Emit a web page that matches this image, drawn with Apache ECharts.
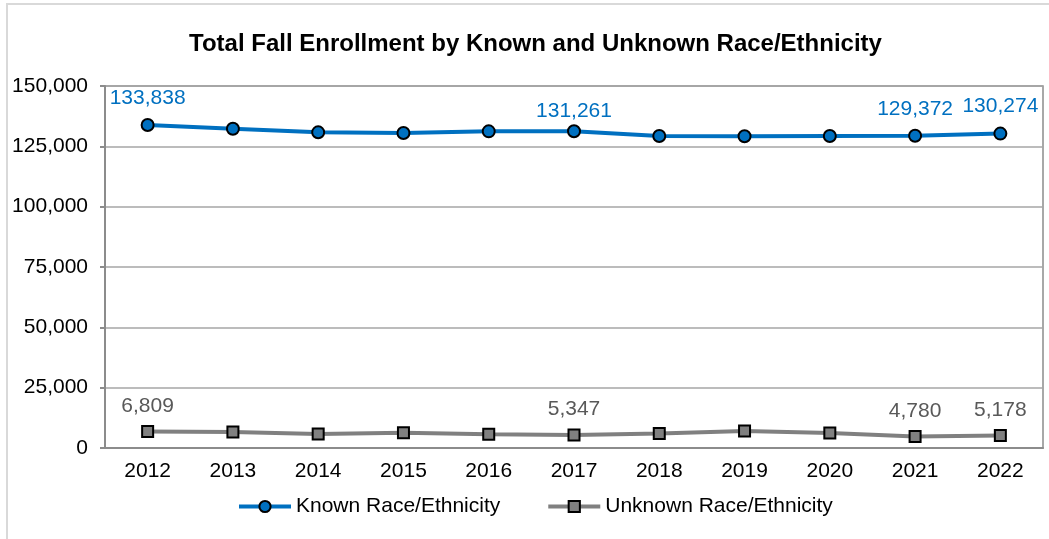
<!DOCTYPE html>
<html>
<head>
<meta charset="utf-8">
<script src="https://cdn.jsdelivr.net/npm/echarts@6/dist/echarts.min.js"></script>
<style>
html,body{margin:0;padding:0;background:#fff;}
#chart{width:1049px;height:539px;}
</style>
</head>
<body>
<div id="chart"></div>
<script>
const title = 'Total Fall Enrollment by Known and Unknown Race/Ethnicity';
const years = ['2012','2013','2014','2015','2016','2017','2018','2019','2020','2021','2022'];
const knownValues = [133838, 132300, 130800, 130500, 131200, 131261, 129300, 129200, 129300, 129372, 130274];
const unknownValues = [6809, 6650, 5800, 6350, 5650, 5347, 6050, 7050, 6200, 4780, 5178];
const knownLabelIdx = [0, 5, 9, 10];
const unknownLabelIdx = [0, 5, 9, 10];
const yTicks = [0, 25000, 50000, 75000, 100000, 125000, 150000];

const FONT = '"Liberation Sans", Arial, sans-serif';
const FS = 21;
const fmt = v => v.toLocaleString('en-US');

function buildData(values, idxs, color, offsets, defOff) {
  return values.map((v, i) => {
    const d = { value: v };
    if (idxs.includes(i)) {
      d.label = {
        show: true, position: 'top', color: color, fontSize: FS, fontFamily: FONT,
        distance: 0, offset: [0, offsets[i] !== undefined ? offsets[i] : defOff],
        formatter: p => fmt(p.value)
      };
    }
    return d;
  });
}

const chart = echarts.init(document.getElementById('chart'), null, { renderer: 'canvas' });
chart.setOption({
  backgroundColor: '#fff',
  animation: false,
  title: {
    text: title, left: 184, top: 27,
    textStyle: { fontFamily: FONT, fontSize: 24, fontWeight: 'bold', color: '#000' }
  },
  grid: { left: 105, right: 6, top: 86, bottom: 91, show: true, borderColor: '#8c8c8c', borderWidth: 1.5 },
  legend: {
    bottom: 17, left: 232, itemGap: 46, itemWidth: 52, itemHeight: 14,
    textStyle: { fontFamily: FONT, fontSize: FS, color: '#000' },
    lineStyle: { width: 4 },
    data: ['Known Race/Ethnicity', 'Unknown Race/Ethnicity']
  },
  xAxis: {
    type: 'category', data: years, boundaryGap: true,
    axisLine: { lineStyle: { color: '#8c8c8c', width: 2 } },
    axisTick: { show: false },
    axisLabel: { fontFamily: FONT, fontSize: FS, color: '#000', margin: 13 }
  },
  yAxis: {
    type: 'value', min: 0, max: 150000, interval: 25000,
    axisLine: { show: true, lineStyle: { color: '#8c8c8c', width: 2 } },
    axisTick: { show: true, length: 5, lineStyle: { color: '#8c8c8c', width: 2 } },
    splitLine: { lineStyle: { color: '#a6a6a6', width: 1.5 } },
    axisLabel: { fontFamily: FONT, fontSize: FS, color: '#000', margin: 17, formatter: v => fmt(v) }
  },
  series: [
    {
      name: 'Known Race/Ethnicity', type: 'line', data: buildData(knownValues, knownLabelIdx, '#0070C0', {5: -3}, -9.5),
      symbol: 'circle', symbolSize: 12,
      lineStyle: { color: '#0070C0', width: 4 },
      itemStyle: { color: '#0070C0', borderColor: '#000', borderWidth: 2 },
      label: { show: false }, z: 3
    },
    {
      name: 'Unknown Race/Ethnicity', type: 'line', data: buildData(unknownValues, unknownLabelIdx, '#595959', {}, -8.5),
      symbol: 'rect', symbolSize: 11,
      lineStyle: { color: '#808080', width: 4 },
      itemStyle: { color: '#808080', borderColor: '#000', borderWidth: 2 },
      label: { show: false }, z: 3
    }
  ],
  graphic: [
    { type: 'line', shape: { x1: 6, y1: 4, x2: 1049, y2: 4 }, style: { stroke: '#d9d9d9', lineWidth: 2 }, silent: true },
    { type: 'line', shape: { x1: 7, y1: 4, x2: 7, y2: 539 }, style: { stroke: '#d9d9d9', lineWidth: 2 }, silent: true }
  ]
});
</script>
</body>
</html>
